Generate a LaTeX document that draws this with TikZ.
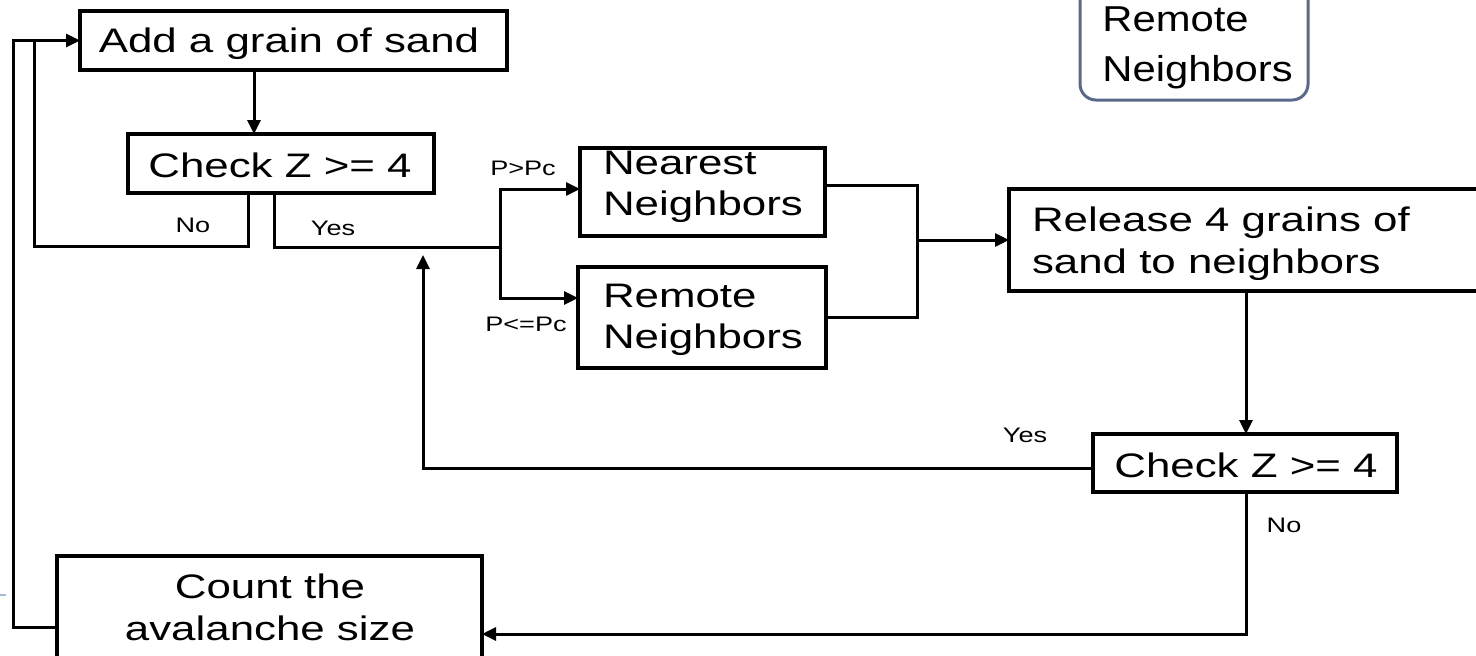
\documentclass[tikz,border=0pt]{standalone}
\usepackage{fontspec}
\setmainfont{Liberation Sans}[FakeStretch=1.29]
\newfontfamily\rnfont{Liberation Sans}[FakeStretch=1.16]
\usetikzlibrary{arrows.meta}
\definecolor{rnborder}{RGB}{90,104,140}
\definecolor{tickblue}{RGB}{165,185,215}
\begin{document}
\begin{tikzpicture}[x=0.5pt,y=-0.5pt,
  box/.style={draw, line width=2pt, inner sep=0pt, outer sep=0pt, anchor=north west},
  txt/.style={inner sep=0pt, outer sep=0pt, font=\fontsize{17pt}{20.5pt}\selectfont},
  lbl/.style={inner sep=0pt, outer sep=0pt, anchor=base, font=\fontsize{10.5pt}{12pt}\selectfont},
  conn/.style={line width=1.5pt},
  arr/.style={conn, -{Triangle[length=7pt,width=6.5pt]}},
]
\useasboundingbox (0,0) rectangle (1476,655);
\clip (0,0) rectangle (1476,655);

% boxes
\node[box, minimum width=213.5pt, minimum height=29.5pt] (add) at (80,11) {};
\node[box, minimum width=153pt, minimum height=29.5pt] (chk1) at (128,134) {};
\node[box, minimum width=122.5pt, minimum height=44pt] (near) at (580,148) {};
\node[box, minimum width=124pt, minimum height=50.5pt] (remo) at (578,267) {};
\node[box, minimum width=250pt, minimum height=51pt] (rel) at (1009,189) {};
\node[box, minimum width=152pt, minimum height=29pt] (chk2) at (1093,434) {};
\node[box, minimum width=212.5pt, minimum height=70pt] (count) at (57,556) {};
\node[box, draw=rnborder, line width=1.5pt, rounded corners=8pt, minimum width=114pt, minimum height=70pt] (rn) at (1080,-40) {};

% box texts (base anchor of a multi-line node = last line)
\node[txt, anchor=base] (add-t) at (289,52) {Add a grain of sand};
\node[txt, anchor=base] (chk1-t) at (280,177) {Check Z >= 4};
\node[txt, anchor=base west, align=left] (near-t) at (603,215) {Nearest\\Neighbors};
\node[txt, anchor=base west, align=left] (remo-t) at (603,348) {Remote\\Neighbors};
\node[txt, anchor=base west, align=left, font=\fontsize{17pt}{21pt}\selectfont] (rel-t) at (1032,273) {Release 4 grains of\\sand to neighbors};
\node[txt, anchor=base] (chk2-t) at (1246,477) {Check Z >= 4};
\node[txt, anchor=base, align=center, font=\fontsize{17pt}{21pt}\selectfont] (count-t) at (270,640) {Count the\\avalanche size};
\node[inner sep=0pt, anchor=base west, align=left, font=\rnfont\fontsize{18pt}{25pt}\selectfont] (rn-t) at (1102,81) {Remote\\Neighbors};

% labels
\node[lbl] (l-no1) at (193,232) {No};
\node[lbl] (l-yes1) at (333,235) {Yes};
\node[lbl] (l-pg) at (523,175) {P>Pc};
\node[lbl] (l-pl) at (526,331) {P<=Pc};
\node[lbl] (l-yes2) at (1025,442) {Yes};
\node[lbl] (l-no2) at (1284,532) {No};

% helper coordinates
\coordinate (xA) at (254,0);
\coordinate (noX) at (248,246);
\coordinate (noL) at (34,246);
\coordinate (yesX) at (274,247);
\coordinate (br) at (500,247);
\coordinate (nIn) at (0,189);
\coordinate (rIn) at (0,298);
\coordinate (mX) at (917,0);
\coordinate (nOut) at (0,185);
\coordinate (rOut) at (0,317);
\coordinate (mY) at (0,240);
\coordinate (vX) at (1246,0);
\coordinate (y2) at (0,468);
\coordinate (upX) at (423,255);
\coordinate (n2) at (0,634);
\coordinate (oX) at (13,627);

% connectors
\draw[arr] (add.south -| xA) -- (chk1.north -| xA);
\draw[arr] (chk1.south -| noX) -- (noX) -- (noL) |- (add.west);
\draw[conn] (chk1.south -| yesX) -- (yesX) -- (br);
\draw[arr] (br) |- (near.west |- nIn);
\draw[arr] (br) |- (remo.west |- rIn);
\draw[conn] (near.east |- nOut) -| (mX |- rOut) -- (remo.east |- rOut);
\draw[arr] (mX |- mY) -- (rel.west |- mY);
\draw[arr] (rel.south -| vX) -- (chk2.north -| vX);
\draw[arr] (chk2.west |- y2) -| (upX);
\draw[arr] (chk2.south -| vX) |- (count.east |- n2);
\draw[conn] (count.west |- oX) -| (oX |- add.west) -- (noL |- add.west);

% small edge mark
\draw[tickblue, line width=1pt] (0,595) -- (6,595);
\end{tikzpicture}
\end{document}
